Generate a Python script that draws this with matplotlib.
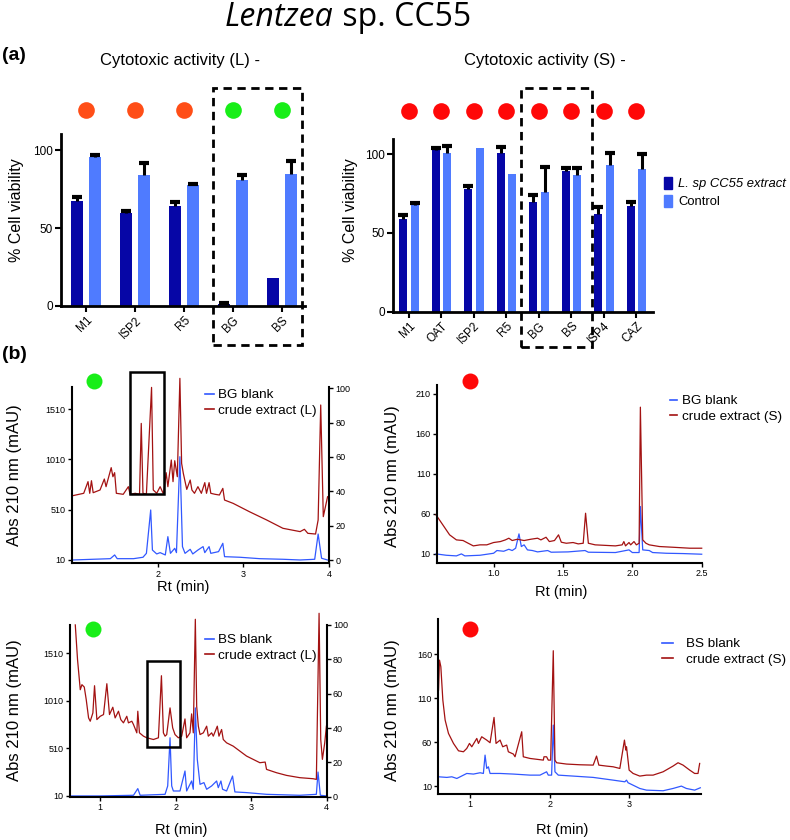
import numpy as np
import matplotlib
matplotlib.use("Agg")
import matplotlib.pyplot as plt
from matplotlib.patches import Rectangle, Patch
from matplotlib.lines import Line2D
from matplotlib.text import Annotation

plt.rcParams['font.family'] = ['Liberation Sans', 'DejaVu Sans']

# ---- (a) cytotoxic activity, % cell viability ----
L_media = ["M1", "ISP2", "R5", "BG", "BS"]
L_extract = [67.5, 59.6, 64.1, 1.0, 17.7]
L_extract_err = [2.5, 1.5, 2.3, 1.0, 0]
L_control = [95.3, 83.8, 77.3, 80.8, 84.8]
L_control_err = [1.5, 8.1, 1.2, 3.4, 8.2]
L_activity = ["moderate", "moderate", "moderate", "active", "active"]

S_media = ["M1", "OAT", "ISP2", "R5", "BG", "BS", "ISP4", "CAZ"]
S_extract = [58.7, 102.7, 78.2, 101.0, 69.9, 89.6, 62.0, 67.2]
S_extract_err = [2.5, 1.3, 1.8, 3.4, 4.1, 1.4, 4.7, 2.5]
S_control = [67.8, 101.0, 104.2, 87.3, 76.2, 87.0, 93.2, 90.9]
S_control_err = [1.2, 4.3, 0, 0, 15.5, 4.0, 7.8, 9.3]
S_activity = ["inactive"] * 8

# ---- (b) HPLC traces, Abs 210 nm (mAU) vs Rt (min) ----
bgL_extract_rt = [1.01, 1.14, 1.19, 1.21, 1.23, 1.25, 1.33, 1.38, 1.40, 1.46, 1.48, 1.50, 1.52,
                  1.60, 1.66, 1.68, 1.74, 1.79, 1.81, 1.83, 1.87, 1.93, 1.95, 1.99, 2.03, 2.07,
                  2.10, 2.12, 2.16, 2.18, 2.20, 2.23, 2.26, 2.28, 2.30, 2.34, 2.38, 2.40, 2.43,
                  2.47, 2.51, 2.55, 2.57, 2.60, 2.62, 2.67, 2.72, 2.76, 2.78, 2.88, 3.07, 3.27,
                  3.46, 3.66, 3.71, 3.75, 3.84, 3.87, 3.90, 3.93, 3.98]
bgL_extract_mau = [649, 673, 789, 673, 798, 679, 706, 815, 739, 928, 838, 878, 673,
                   663, 739, 663, 673, 663, 1368, 673, 666, 1726, 706, 673, 739, 663,
                   878, 739, 1004, 789, 997, 838, 1816, 971, 871, 712, 805, 706, 673,
                   739, 673, 779, 673, 779, 673, 663, 656, 722, 606, 573, 490, 408,
                   325, 292, 315, 275, 268, 408, 1551, 441, 639]
bgL_blank_rt = [1.01, 1.45, 1.50, 1.53, 1.72, 1.83, 1.87, 1.92, 1.94, 1.99, 2.03, 2.09, 2.12,
                2.15, 2.20, 2.22, 2.26, 2.29, 2.32, 2.38, 2.41, 2.47, 2.53, 2.55, 2.60, 2.62,
                2.71, 2.76, 2.78, 2.96, 3.19, 3.46, 3.66, 3.83, 3.87, 3.91, 3.98]
bgL_blank_mau = [10, 23, 60, 23, 23, 37, 76, 507, 109, 70, 83, 60, 242,
                 76, 126, 83, 1037, 143, 76, 116, 70, 109, 143, 83, 143, 76,
                 93, 176, 43, 37, 23, 17, 10, 17, 268, 27, 10]

bgS_extract_rt = [0.585, 0.634, 0.683, 0.732, 0.780, 0.817, 0.854, 0.902, 0.951, 1.0, 1.049,
                  1.085, 1.110, 1.134, 1.171, 1.220, 1.268, 1.317, 1.341, 1.378, 1.402, 1.439,
                  1.468, 1.488, 1.524, 1.573, 1.610, 1.646, 1.663, 1.683, 1.732, 1.878, 1.927,
                  1.939, 1.951, 1.976, 1.988, 2.012, 2.029, 2.049, 2.058, 2.075, 2.098, 2.122,
                  2.195, 2.293, 2.415, 2.5]
bgS_extract_mau = [58.8, 46.3, 33.8, 27.5, 26.7, 23.3, 20.0, 21.3, 21.3, 24.2, 25.4,
                   27.5, 29.6, 26.7, 28.3, 26.7, 28.3, 29.6, 27.5, 30.8, 25.4, 26.7,
                   33.8, 24.6, 23.3, 24.2, 22.5, 23.3, 60.8, 23.3, 21.3, 20.0, 21.3,
                   25.4, 20.0, 24.2, 21.3, 25.4, 21.3, 23.3, 193.3, 27.5, 23.3, 21.3,
                   19.2, 18.3, 17.1, 17.1]
bgS_blank_rt = [0.585, 0.659, 0.732, 0.768, 0.793, 0.902, 1.0, 1.024, 1.073, 1.110, 1.134,
                1.159, 1.183, 1.2, 1.220, 1.244, 1.280, 1.317, 1.390, 1.415, 1.537, 1.659,
                1.683, 1.878, 1.976, 2.0, 2.049, 2.058, 2.075, 2.122, 2.146, 2.244, 2.366, 2.5]
bgS_blank_mau = [10, 8.3, 7.5, 10, 7.5, 8.3, 10.8, 14.2, 13.3, 15.8, 14.2,
                 17.1, 35, 19.2, 21.3, 15, 14.2, 12.5, 14.2, 12.1, 12.5, 14.2,
                 12.1, 11.7, 15, 11.7, 11.7, 69.2, 15, 14.2, 11.7, 10.8, 10.4, 9.6]

bsL_extract_rt = [0.670, 0.700, 0.736, 0.758, 0.789, 0.815, 0.846, 0.868, 0.903, 0.925, 0.956,
                  1.0, 1.044, 1.088, 1.123, 1.167, 1.198, 1.242, 1.273, 1.308, 1.352, 1.374,
                  1.419, 1.441, 1.485, 1.498, 1.520, 1.573, 1.617, 1.705, 1.771, 1.811, 1.837,
                  1.859, 1.881, 1.925, 1.960, 1.991, 2.035, 2.079, 2.123, 2.145, 2.189, 2.211,
                  2.233, 2.260, 2.278, 2.300, 2.322, 2.366, 2.410, 2.432, 2.476, 2.498, 2.551,
                  2.573, 2.608, 2.630, 2.674, 2.762, 2.938, 3.115, 3.185, 3.203, 3.335, 3.467,
                  3.643, 3.819, 3.863, 3.899, 3.921, 3.943, 3.974, 3.996]
bsL_extract_mau = [1807, 1440, 1126, 1179, 1154, 1022, 830, 795, 882, 1168, 812,
                   847, 865, 1189, 865, 942, 830, 900, 812, 778, 847, 778,
                   795, 760, 673, 900, 673, 638, 621, 603, 621, 1273, 673,
                   638, 655, 935, 725, 655, 621, 638, 819, 621, 673, 872,
                   673, 1866, 952, 743, 655, 673, 743, 638, 673, 638, 743,
                   638, 708, 603, 568, 533, 429, 359, 366, 289, 254, 226,
                   202, 191, 184, 1929, 603, 394, 568, 743]
bsL_blank_rt = [0.604, 1.0, 1.441, 1.498, 1.529, 1.859, 1.894, 1.925, 1.947, 1.969, 2.057,
                2.123, 2.145, 2.211, 2.233, 2.260, 2.286, 2.322, 2.374, 2.410, 2.476, 2.542,
                2.564, 2.599, 2.621, 2.674, 2.753, 2.784, 2.938, 3.203, 3.643, 3.863, 3.885,
                3.916, 3.996]
bsL_blank_mau = [10, 10, 17, 87, 17, 27, 115, 621, 115, 62, 62,
                 272, 62, 167, 80, 935, 394, 132, 150, 80, 115, 167,
                 97, 167, 80, 62, 219, 52, 45, 27, 17, 27, 261,
                 17, 10]

bsS_extract_rt = [0.603, 0.615, 0.632, 0.657, 0.686, 0.728, 0.791, 0.854, 0.916, 0.958, 0.992,
                  1.021, 1.084, 1.105, 1.146, 1.209, 1.251, 1.301, 1.326, 1.377, 1.410, 1.460,
                  1.481, 1.544, 1.565, 1.649, 1.669, 1.753, 1.921, 1.929, 1.962, 1.983, 2.013,
                  2.046, 2.067, 2.088, 2.213, 2.381, 2.548, 2.590, 2.619, 2.715, 2.799, 2.883,
                  2.941, 2.958, 2.967, 3.0, 3.050, 3.134, 3.218, 3.301, 3.427, 3.552, 3.615,
                  3.678, 3.762, 3.824, 3.866, 3.887]
bsS_extract_mau = [119.4, 153.5, 145.9, 108.0, 85.2, 70.0, 58.6, 50.2, 49.1, 52.9, 58.6,
                   54.8, 64.3, 58.6, 66.2, 62.4, 59.4, 88.2, 58.6, 62.4, 54.8, 56.7,
                   49.1, 46.5, 43.4, 71.9, 43.4, 41.5, 39.6, 43.4, 43.4, 39.6, 39.6,
                   164.2, 39.6, 36.6, 35.1, 34.3, 33.9, 44.2, 33.9, 32.8, 32.0, 30.1,
                   62.4, 51.0, 54.8, 28.2, 24.4, 21.4, 22.5, 22.5, 26.3, 32.8, 36.6,
                   33.9, 28.2, 24.4, 24.4, 35.8]
bsS_blank_rt = [0.603, 0.707, 0.770, 0.833, 0.958, 1.042, 1.126, 1.167, 1.188, 1.209, 1.230,
                1.251, 1.377, 1.544, 1.753, 1.879, 1.962, 1.983, 2.025, 2.046, 2.067, 2.109,
                2.297, 2.548, 2.799, 2.946, 2.967, 2.987, 3.134, 3.218, 3.427, 3.552, 3.657,
                3.720, 3.824, 3.895]
bsS_blank_mau = [20.6, 19.9, 20.6, 18.7, 24.4, 23.7, 25.2, 24.4, 45.3, 30.1, 32.0,
                 24.4, 24.4, 23.7, 22.5, 22.5, 26.3, 22.5, 22.5, 79.5, 26.3, 22.5,
                 21.4, 19.9, 16.8, 14.9, 16.8, 13.8, 7.3, 5.4, 4.7, 7.3, 10,
                 7.3, 5.4, 8.1]

DARK = "#0606A6"
LIGHT = "#4F7BFF"
RED_TRACE = "#A31212"
BLUE_TRACE = "#3158FF"
DOT = {"moderate": "#FF4E17", "active": "#18EE18", "inactive": "#FF0808"}

W, H = 790, 840


def box(l, t, r, b):
    return [l / W, 1 - b / H, (r - l) / W, (b - t) / H]


def fx(px):
    return px / W


def fy(py):
    return 1 - py / H


fig = plt.figure(figsize=(7.9, 8.4), dpi=100)


def bar_panel(rect, media, ext, ext_err, ctrl, ctrl_err, activity, xlim, ylim, dot_y, dash):
    ax = fig.add_axes(rect)
    x = np.arange(len(media))
    off = 0.18
    ax.bar(x - off, ext, width=0.25, color=DARK)
    ax.bar(x + off, ctrl, width=0.25, color=LIGHT)
    for xs, v, e in ((x - off, ext, ext_err), (x + off, ctrl, ctrl_err)):
        v = np.asarray(v, float)
        e = np.asarray(e, float)
        m = e > 0
        ax.vlines(xs[m], v[m], v[m] + e[m], color='k', lw=2.2)
        ax.plot(xs[m], v[m] + e[m], ls='none', marker='_', ms=7, mew=3, color='k')
    for xi, a in zip(x, activity):
        ax.plot(xi, dot_y, marker='o', ms=12, mew=0, color=DOT[a], clip_on=False)
    ax.set_xlim(*xlim)
    ax.set_ylim(*ylim)
    ax.set_yticks([0, 50, 100])
    ax.set_xticks(x)
    ax.set_xticklabels(media, rotation=45, ha='right', rotation_mode='anchor')
    ax.spines[['top', 'right']].set_visible(False)
    for s in ('left', 'bottom'):
        ax.spines[s].set_linewidth(2)
    ax.tick_params(direction='out', length=4, width=1.5, labelsize=8.5, pad=2)
    (x0, x1), (y0, y1) = dash
    ax.add_patch(Rectangle((x0, y0), x1 - x0, y1 - y0, fill=False, ec='k', lw=2,
                           ls=(0, (3, 2)), clip_on=False))
    return ax


bar_panel(box(61, 134, 305, 306), L_media, L_extract, L_extract_err, L_control,
          L_control_err, L_activity, (-0.51, 4.47), (0, 110.3), 125.6,
          ((2.59, 4.41), (-25, 139.7)))
bar_panel(box(393, 139, 653, 311.7), S_media, S_extract, S_extract_err, S_control,
          S_control_err, S_activity, (-0.49, 7.51), (0, 109.7), 127.7,
          ((3.45, 5.63), (-22.4, 142.1)))

leg = fig.legend(handles=[Patch(color=DARK, label='L. sp CC55 extract'),
                          Patch(color=LIGHT, label='Control')],
                 loc='upper left', bbox_to_anchor=(fx(664), fy(177)), frameon=False,
                 fontsize=9.4, handlelength=0.6, handleheight=1.0, handletextpad=0.5,
                 labelspacing=0.35, borderpad=0, borderaxespad=0)
leg.get_texts()[0].set_style('italic')


def chrom_panel(rect, xlim, ylim, xticks, yticks, xfmt, blank, extract, labels,
                leg_anchor, leg_pad, right_ylim=None, frame=None):
    ax = fig.add_axes(rect)
    ax.plot(blank[0], blank[1], color=BLUE_TRACE, lw=0.9, clip_on=False)
    ax.plot(extract[0], extract[1], color=RED_TRACE, lw=0.9, clip_on=False)
    ax.set_xlim(*xlim)
    ax.set_ylim(*ylim)
    ax.set_xticks(xticks)
    ax.set_xticklabels([xfmt % t for t in xticks])
    ax.set_yticks(yticks)
    ax.spines[['top', 'right']].set_visible(False)
    for s in ('left', 'bottom'):
        ax.spines[s].set_linewidth(1.5)
    ax.tick_params(direction='out', length=3, width=1, labelsize=6.5, pad=1.5)
    if right_ylim is not None:
        ax2 = ax.twinx()
        ax2.set_ylim(*right_ylim)
        ax2.set_yticks(range(0, 101, 20))
        ax2.spines[['top', 'left', 'bottom']].set_visible(False)
        ax2.spines['right'].set_linewidth(1.5)
        ax2.tick_params(direction='out', length=3, width=1, labelsize=6.5, pad=1.5)
    if frame is not None:
        (x0, x1), (y0, y1) = frame
        ax.add_patch(Rectangle((x0, y0), x1 - x0, y1 - y0, fill=False, ec='k', lw=1.8,
                               clip_on=False, zorder=5))
    fig.legend(handles=[Line2D([], [], color=BLUE_TRACE, lw=1.2, label=labels[0]),
                        Line2D([], [], color=RED_TRACE, lw=1.2, label=labels[1])],
               loc='upper left', bbox_to_anchor=leg_anchor, frameon=False, fontsize=9.7,
               handlelength=leg_pad[0], handletextpad=leg_pad[1], labelspacing=0.2,
               borderpad=0, borderaxespad=0)
    return ax


chrom_panel(box(71.7, 386.7, 329.3, 563.3), (1.0, 4.0), (-23, 1733), [2, 3, 4],
            [10, 510, 1010, 1510], '%d', (bgL_blank_rt, bgL_blank_mau),
            (bgL_extract_rt, bgL_extract_mau), ['BG blank', 'crude extract (L)'],
            (fx(205), fy(389)), (0.7, 0.3), right_ylim=(-1.9, 100.9),
            frame=((1.68, 2.07), (663, 1875)))
chrom_panel(box(436.7, 385, 701.7, 562.7), (0.59, 2.5), (-1, 221), [1.0, 1.5, 2.0, 2.5],
            [10, 60, 110, 160, 210], '%.1f', (bgS_blank_rt, bgS_blank_mau),
            (bgS_extract_rt, bgS_extract_mau), ['BG blank', 'crude extract (S)'],
            (fx(670), fy(395)), (0.5, 0.4))
chrom_panel(box(70, 625, 326.7, 796.7), (0.6, 4.0), (2, 1806), [1, 2, 3, 4],
            [10, 510, 1010, 1510], '%d', (bsL_blank_rt, bsL_blank_mau),
            (bsL_extract_rt, bsL_extract_mau), ['BS blank', 'crude extract (L)'],
            (fx(205), fy(634)), (0.7, 0.3), right_ylim=(0, 100),
            frame=((1.617, 2.057), (526, 1430)))
chrom_panel(box(438.3, 619.3, 700.7, 794), (0.6, 3.9), (1, 200), [1, 2, 3],
            [10, 60, 110, 160], '%d', (bsS_blank_rt, bsS_blank_mau),
            (bsS_extract_rt, bsS_extract_mau), ['BS blank', 'crude extract (S)'],
            (fx(662), fy(638)), (0.8, 1.0))

# activity dots of panel (b)
for (px, py), a in zip([(94, 381), (470, 381), (93, 629), (470, 629)],
                       ["active", "inactive", "active", "inactive"]):
    fig.add_artist(Line2D([fx(px)], [fy(py)], marker='o', ms=11.5, mew=0,
                          color=DOT[a], transform=fig.transFigure))

# texts
t1 = fig.text(fx(225), fy(26), 'Lentzea', fontsize=23, style='italic',
              family=['Open Sans', 'DejaVu Sans'], va='baseline')
fig.add_artist(Annotation(' sp. CC55', xy=(1, 0), xycoords=t1, va='bottom', ha='left',
                          fontsize=23, family=['Open Sans', 'DejaVu Sans']))
fig.text(fx(2), fy(60), '(a)', fontsize=14, weight='bold', va='baseline')
fig.text(fx(2), fy(359), '(b)', fontsize=14, weight='bold', va='baseline')
fig.text(fx(180), fy(65), 'Cytotoxic activity (L) -', fontsize=12, ha='center', va='baseline')
fig.text(fx(545), fy(65), 'Cytotoxic activity (S) -', fontsize=12, ha='center', va='baseline')
for px, py in [(17, 210), (351, 210)]:
    fig.text(fx(px), fy(py), '% Cell viability', fontsize=11.5, rotation=90,
             ha='center', va='center')
for px, py in [(15, 475), (392, 476), (15, 710), (392, 710)]:
    fig.text(fx(px), fy(py), 'Abs 210 nm (mAU)', fontsize=12, rotation=90,
             ha='center', va='center')
for px, py in [(183, 587), (561, 592), (181, 830), (562, 830)]:
    fig.text(fx(px), fy(py), 'Rt (min)', fontsize=10.5, ha='center', va='center')

fig.savefig('out.png', dpi=100)
